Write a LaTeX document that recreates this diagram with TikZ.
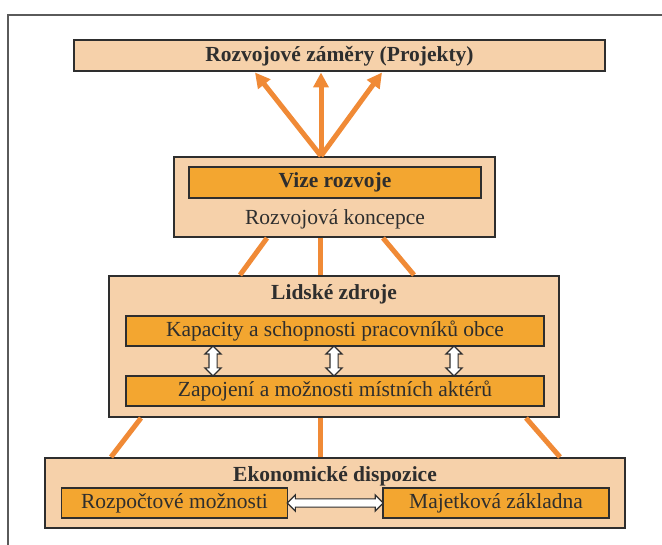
\documentclass[tikz,border=0pt]{standalone}
\usepackage{fontspec}
\setmainfont{Liberation Serif}
\usetikzlibrary{shapes,arrows.meta,positioning,calc}
\definecolor{peach}{HTML}{F6D1AA}
\definecolor{amber}{HTML}{F3A630}
\definecolor{linkorange}{HTML}{F08A36}
\definecolor{rim}{HTML}{2E2E2E}
\definecolor{framegray}{HTML}{5A5A5A}

\begin{document}
\begin{tikzpicture}
[x=1pt,y=-1pt,
outerbox/.style={draw=rim,fill=peach,line width=2pt,inner sep=0pt},
innerbox/.style={draw=rim,fill=amber,line width=1.6pt,inner sep=0pt,text=rim,font=\fontsize{21.5}{24}\selectfont},
title/.style={text=rim,font=\fontsize{21.5}{24}\selectfont\bfseries},
plain/.style={text=rim,font=\fontsize{21.5}{24}\selectfont},
link/.style={draw=linkorange,line width=5pt},
fanarrow/.style={link,-{Triangle[length=15pt,width=15pt]}},
dblarrow/.style={shape=double arrow,draw=rim,fill=white,line width=1.2pt,inner sep=3.5pt,
  minimum width=16pt,minimum height=30pt,double arrow head extend=4pt}]
\useasboundingbox (0,0) rectangle (662,545);
%% frame
\draw[framegray,line width=1.5pt] (8,545) -- (8,15) -- (662,15);
%% boxes
\node[outerbox,title,minimum width=531pt,minimum height=31pt] (projekty) at (339.5,56) {Rozvojové záměry (Projekty)};
\node[outerbox,minimum width=321pt,minimum height=80pt] (koncepce) at (334.5,197) {};
\node[innerbox,title,minimum width=292pt,minimum height=31pt] (vize) at (335,182.5) {Vize rozvoje};
\node[plain] (koncepcetxt) at (335,219) {Rozvojová koncepce};
\node[outerbox,minimum width=450pt,minimum height=141pt] (lidske) at (334,346.5) {};
\node[title] (lidsketxt) at (334,294) {Lidské zdroje};
\node[innerbox,minimum width=418pt,minimum height=30pt] (kapacity) at (335,331) {Kapacity a schopnosti pracovníků obce};
\node[innerbox,minimum width=418pt,minimum height=30pt] (zapojeni) at (335,391) {Zapojení a možnosti místních aktérů};
\node[outerbox,minimum width=580pt,minimum height=70pt] (ekonomicke) at (335,493) {};
\node[title] (ekonomtxt) at (335,476) {Ekonomické dispozice};
\node[innerbox,minimum width=226pt,minimum height=30pt] (rozpocet) at (174.5,503) {Rozpočtové možnosti};
\node[innerbox,minimum width=226pt,minimum height=30pt] (majetek) at (496,503) {Majetková základna};
%% arrows to projects
\coordinate (fan) at ($(koncepce.north)+(-13.5,0)$);
\draw[fanarrow] (fan) -- ($(projekty.south)+(-84.5,0)$);
\draw[fanarrow] (fan) -- ($(projekty.south)+(-18.5,0)$);
\draw[fanarrow] (fan) -- ($(projekty.south)+(42.5,0)$);
%% links between levels
\draw[link] ($(koncepce.south)+(-67.5,0)$) -- ($(lidske.north)+(-94,0)$);
\draw[link] ($(koncepce.south)+(-14.5,0)$) -- ($(lidske.north)+(-14,0)$);
\draw[link] ($(koncepce.south)+(48.5,0)$) -- ($(lidske.north)+(80,0)$);
\draw[link] ($(lidske.south)+(-193,0)$) -- ($(ekonomicke.north)+(-224,0)$);
\draw[link] ($(lidske.south)+(-14,0)$) -- ($(ekonomicke.north)+(-15,0)$);
\draw[link] ($(lidske.south)+(192,0)$) -- ($(ekonomicke.north)+(225,0)$);
%% double arrows
\node[dblarrow,rotate=90] (d1) at ($(kapacity.south)!.5!(zapojeni.north)+(-122,0)$) {};
\node[dblarrow,rotate=90] (d2) at ($(kapacity.south)!.5!(zapojeni.north)+(-1,0)$) {};
\node[dblarrow,rotate=90] (d3) at ($(kapacity.south)!.5!(zapojeni.north)+(119,0)$) {};
\node[dblarrow,minimum height=96pt] (d4) at ($(rozpocet.east)!.5!(majetek.west)$) {};
\end{tikzpicture}
\end{document}
